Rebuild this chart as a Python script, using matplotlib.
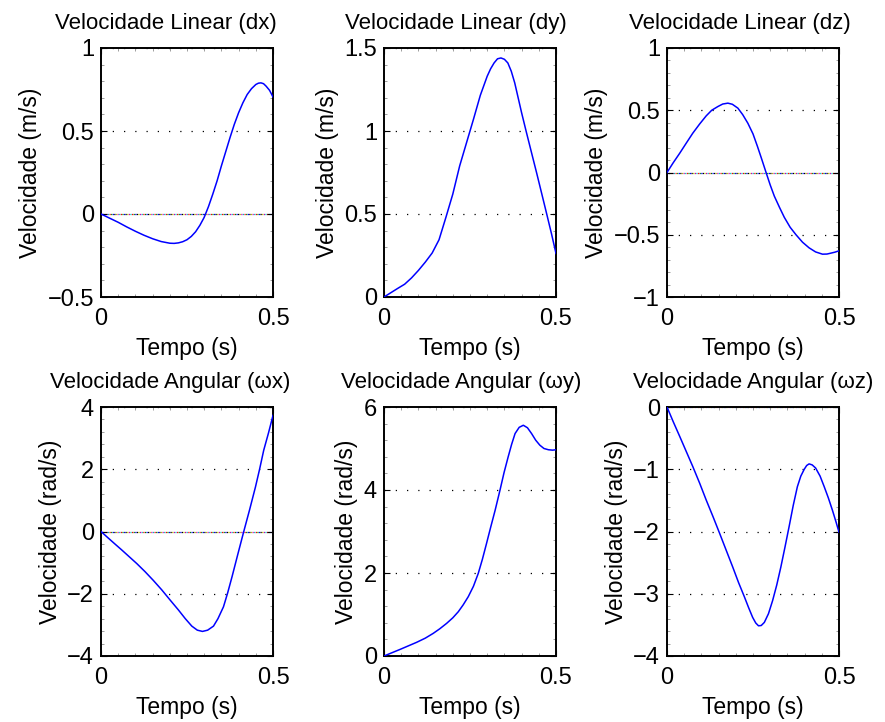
import matplotlib
matplotlib.use("Agg")
import matplotlib.pyplot as plt
from matplotlib.ticker import FuncFormatter, MultipleLocator, AutoMinorLocator

plt.rcParams['font.family'] = ['Liberation Sans', 'DejaVu Sans']
plt.rcParams['axes.unicode_minus'] = True

# --- data (time in s) ---
t_dx = [0, 0.025, 0.05, 0.075, 0.1, 0.125, 0.15, 0.175, 0.2, 0.2125, 0.225, 0.2375,
        0.25, 0.2625, 0.275, 0.2875, 0.3, 0.3125, 0.325, 0.3375, 0.35, 0.3625, 0.375,
        0.3875, 0.4, 0.4125, 0.425, 0.4375, 0.45, 0.4575, 0.465, 0.4725, 0.48, 0.49, 0.5]
v_dx = [0, -0.025, -0.05, -0.078, -0.104, -0.128, -0.149, -0.166, -0.176, -0.177, -0.174,
        -0.167, -0.155, -0.135, -0.107, -0.068, -0.02, 0.045, 0.12, 0.2, 0.29, 0.375, 0.46,
        0.54, 0.61, 0.67, 0.72, 0.755, 0.78, 0.788, 0.79, 0.785, 0.77, 0.745, 0.705]

t_dy = [0, 0.02, 0.04, 0.06, 0.08, 0.1, 0.12, 0.14, 0.16, 0.18, 0.2, 0.22, 0.24, 0.25,
        0.26, 0.28, 0.3, 0.31, 0.32, 0.33, 0.34, 0.35, 0.36, 0.37, 0.38, 0.39, 0.4,
        0.413, 0.43, 0.444, 0.46, 0.473, 0.487, 0.5]
v_dy = [0, 0.026, 0.052, 0.077, 0.115, 0.16, 0.21, 0.265, 0.345, 0.48, 0.62, 0.79, 0.93, 1.0,
        1.07, 1.215, 1.33, 1.375, 1.41, 1.435, 1.44, 1.432, 1.41, 1.36, 1.29, 1.2, 1.11,
        1.0, 0.86, 0.745, 0.61, 0.5, 0.38, 0.262]

t_dz = [0, 0.018, 0.037, 0.056, 0.075, 0.095, 0.114, 0.13, 0.148, 0.162, 0.177, 0.19,
        0.206, 0.22, 0.235, 0.25, 0.263, 0.275, 0.288, 0.3, 0.312, 0.327, 0.341, 0.358,
        0.375, 0.394, 0.413, 0.432, 0.452, 0.465, 0.476, 0.488, 0.5]
v_dz = [0, 0.078, 0.155, 0.236, 0.316, 0.39, 0.455, 0.5, 0.53, 0.55, 0.557, 0.548,
        0.517, 0.465, 0.396, 0.31, 0.209, 0.11, 0, -0.1, -0.19, -0.28, -0.36, -0.44,
        -0.5, -0.56, -0.605, -0.638, -0.656, -0.655, -0.648, -0.64, -0.629]

t_wx = [0, 0.02, 0.041, 0.06, 0.08, 0.104, 0.128, 0.152, 0.177, 0.2, 0.225, 0.245,
        0.264, 0.28, 0.295, 0.31, 0.327, 0.34, 0.356, 0.368, 0.381, 0.398, 0.415, 0.432,
        0.449, 0.461, 0.473, 0.487, 0.5]
v_wx = [0, -0.2, -0.406, -0.59, -0.79, -1.03, -1.29, -1.57, -1.88, -2.19, -2.52, -2.8,
        -3.04, -3.17, -3.21, -3.17, -3.04, -2.8, -2.42, -1.98, -1.45, -0.72, 0, 0.7,
        1.43, 2.0, 2.61, 3.17, 3.73]

t_wy = [0, 0.047, 0.095, 0.12, 0.143, 0.162, 0.182, 0.2, 0.216, 0.23, 0.245, 0.26,
        0.274, 0.286, 0.298, 0.31, 0.323, 0.337, 0.349, 0.361, 0.371, 0.381, 0.393,
        0.405, 0.417, 0.429, 0.441, 0.453, 0.465, 0.478, 0.49, 0.5]
v_wy = [0, 0.16, 0.33, 0.43, 0.545, 0.655, 0.786, 0.92, 1.067, 1.23, 1.43, 1.68,
        1.99, 2.33, 2.71, 3.1, 3.51, 3.99, 4.42, 4.80, 5.1, 5.36, 5.51,
        5.56, 5.5, 5.36, 5.2, 5.08, 5.0, 4.97, 4.96, 4.97]

t_wz = [0, 0.018, 0.037, 0.056, 0.075, 0.095, 0.114, 0.134, 0.153, 0.172, 0.191, 0.208,
        0.225, 0.237, 0.249, 0.258, 0.266, 0.274, 0.283, 0.295, 0.307, 0.319, 0.331,
        0.343, 0.355, 0.367, 0.379, 0.389, 0.399, 0.406, 0.413, 0.422, 0.432, 0.445,
        0.457, 0.469, 0.481, 0.491, 0.5]
v_wz = [0, -0.235, -0.473, -0.715, -0.957, -1.225, -1.495, -1.765, -2.03, -2.3, -2.57, -2.82,
        -3.05, -3.22, -3.38, -3.47, -3.515, -3.51, -3.46, -3.32, -3.11, -2.86, -2.57,
        -2.25, -1.92, -1.58, -1.28, -1.11, -1.0, -0.94, -0.914, -0.93, -0.98, -1.11,
        -1.28, -1.46, -1.66, -1.84, -2.01]

titles = ['Velocidade Linear (dx)', 'Velocidade Linear (dy)', 'Velocidade Linear (dz)',
          'Velocidade Angular (\u03c9x)', 'Velocidade Angular (\u03c9y)', 'Velocidade Angular (\u03c9z)']
ylabels = ['Velocidade (m/s)'] * 3 + ['Velocidade (rad/s)'] * 3
ylims = [(-0.5, 1), (0, 1.5), (-1, 1), (-4, 4), (0, 6), (-4, 0)]
ysteps = [0.5, 0.5, 0.5, 2, 2, 1]
series = [(t_dx, v_dx), (t_dy, v_dy), (t_dz, v_dz), (t_wx, v_wx), (t_wy, v_wy), (t_wz, v_wz)]

W, H = 885, 722
lefts = [101, 384, 667]
tops = [48, 407]
aw, ah = 172, 249
# title centres in the reference sit a little left of the axes centres
title_cx = [166, 456, 740, 170, 461, 753]

fig = plt.figure(figsize=(W / 100, H / 100), dpi=100)
fmt = FuncFormatter(lambda v, p: ('%g' % v).replace('-', '\u2212'))
zero_cols = ['b', 'g', 'r', 'c', 'm', 'y', 'k']

for i, (t, v) in enumerate(series):
    r, c = divmod(i, 3)
    ax = fig.add_axes([lefts[c] / W, 1 - (tops[r] + ah) / H, aw / W, ah / H])
    lo, hi = ylims[i]
    # dotted grid on y ticks
    k = lo
    while k <= hi + 1e-9:
        if abs(k) > 1e-9:
            ax.axhline(k, color='k', linestyle=(0, (1, 8)), linewidth=0.9, zorder=1)
        k += ysteps[i]
    if lo <= 0 <= hi:
        for j, zc in enumerate(zero_cols):
            ax.axhline(0, color=zc, linestyle=(j * 1.3, (1, 8)), linewidth=0.9, zorder=1)
    ax.plot(t, v, color='#0000ff', linewidth=1.1, zorder=3)
    ax.set_xlim(0, 0.5)
    ax.set_ylim(lo, hi)
    ax.set_xticks([0, 0.5])
    ax.yaxis.set_major_locator(MultipleLocator(ysteps[i]))
    ax.yaxis.set_minor_locator(AutoMinorLocator(5))
    ax.xaxis.set_minor_locator(MultipleLocator(0.05))
    ax.xaxis.set_major_formatter(fmt)
    ax.yaxis.set_major_formatter(fmt)
    ax.tick_params(which='both', direction='in', top=True, right=True, labelsize=17, pad=5)
    ax.tick_params(axis='x', which='major', pad=8)
    ax.tick_params(which='major', length=4, width=0.8)
    ax.tick_params(which='minor', length=2, width=0.5, colors='#777777')
    for s in ax.spines.values():
        s.set_linewidth(1.4)
    ax.set_title(titles[i], fontsize=16, pad=14, x=(title_cx[i] - lefts[c]) / aw)
    ax.set_xlabel('Tempo (s)', fontsize=16.5, labelpad=5)
    ax.set_ylabel(ylabels[i], fontsize=16.5, labelpad=4)

fig.savefig('out.png', dpi=100)
